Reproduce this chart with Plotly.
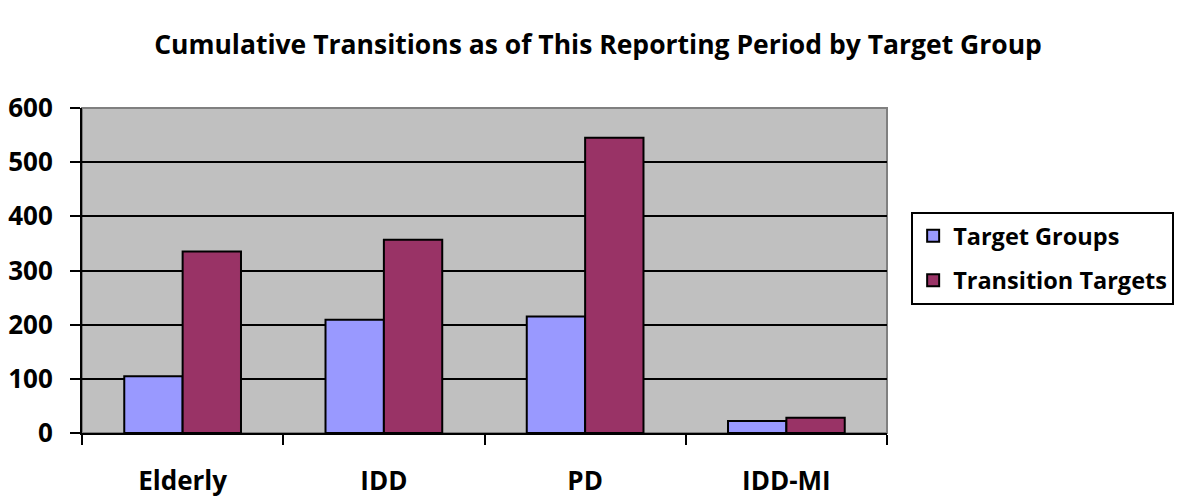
import plotly.graph_objects as go

categories = ["Elderly", "IDD", "PD", "IDD-MI"]
target_groups = [105, 209, 215, 22]
transition_targets = [335, 357, 545, 28]
y_ticks = [0, 100, 200, 300, 400, 500, 600]

FONT = "'Open Sans', sans-serif"

fig = go.Figure()
fig.add_trace(go.Bar(name="Target Groups", x=categories, y=target_groups, legendgroup="a",
                     marker=dict(color="#9999FF", line=dict(color="black", width=2))))
fig.add_trace(go.Bar(name="Transition Targets", x=categories, y=transition_targets, legendgroup="b",
                     marker=dict(color="#993366", line=dict(color="black", width=2))))

# page body has an 8px margin, so figure is sized to compensate
fig.update_layout(
    width=1180, height=492,
    margin=dict(l=74, r=301, t=100, b=67, autoexpand=False),
    paper_bgcolor="white", plot_bgcolor="#C0C0C0",
    barmode="group", bargap=0.42, bargroupgap=0,
    title=dict(text="<b>Cumulative Transitions as of This Reporting Period by Target Group</b>",
               x=0.5, xref="container", xanchor="center", y=0.925, yanchor="middle",
               font=dict(family=FONT, size=26.5, color="black")),
    font=dict(family=FONT, color="black"),
    legend=dict(x=1.03, y=0.68, xanchor="left", yanchor="top",
                bordercolor="black", borderwidth=2, bgcolor="white",
                font=dict(family=FONT, size=23.5, color="black", weight="bold"),
                traceorder="grouped", tracegroupgap=11, itemwidth=30),
    showlegend=True,
)
fig.update_xaxes(
    showline=True, linecolor="black", linewidth=2,
    ticks="outside", tickson="boundaries", ticklen=10, tickwidth=2, tickcolor="black",
    tickfont=dict(family=FONT, size=26, color="black", weight="bold"),
    ticklabelstandoff=24, showgrid=False,
)
fig.update_yaxes(
    range=[0, 600], tickvals=y_ticks, showline=True, linecolor="black", linewidth=2,
    ticks="outside", ticklen=10, tickwidth=2, tickcolor="black",
    tickfont=dict(family=FONT, size=26, color="black", weight="bold"),
    ticklabelstandoff=12,
    showgrid=True, gridcolor="black", gridwidth=2, zeroline=False,
)
fig.add_shape(type="rect", xref="paper", yref="paper", x0=0, x1=1, y0=0, y1=1,
              line=dict(color="#808080", width=2), layer="below")

fig.write_html("out.html")
